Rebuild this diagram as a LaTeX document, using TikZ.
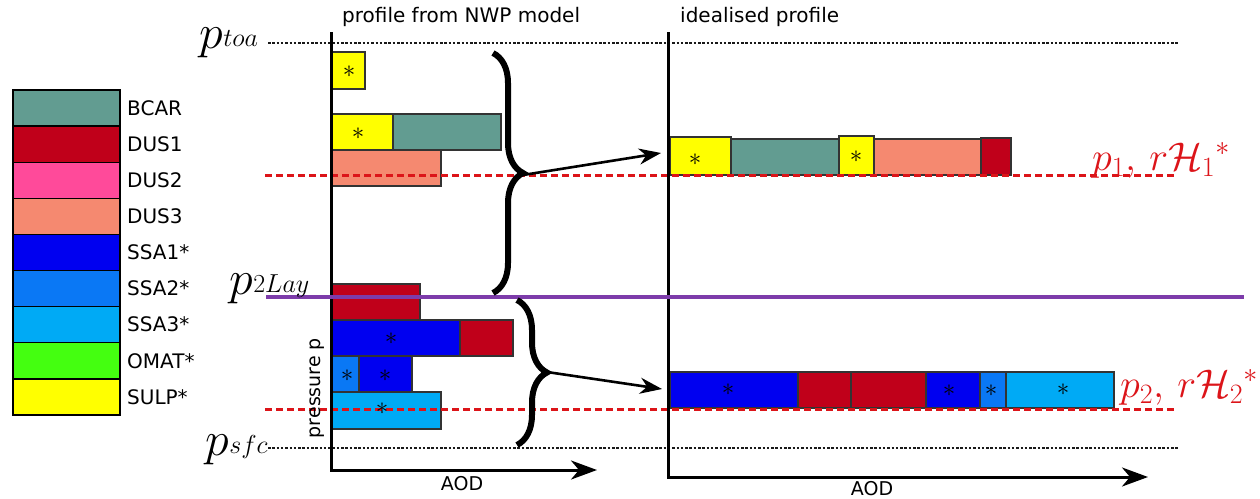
\RequirePackage{fix-cm}
\documentclass[tikz,border=0pt]{standalone}
\usepackage{fontspec}
\setmainfont{DejaVu Sans}
\usetikzlibrary{arrows.meta,decorations.pathreplacing}

% aerosol species colours
\definecolor{bcar}{RGB}{98,156,145}
\definecolor{dusone}{RGB}{192,0,26}
\definecolor{dustwo}{RGB}{255,74,154}
\definecolor{dusthree}{RGB}{245,137,112}
\definecolor{ssaone}{RGB}{0,0,240}
\definecolor{ssatwo}{RGB}{10,120,245}
\definecolor{ssathree}{RGB}{0,170,245}
\definecolor{omat}{RGB}{68,255,16}
\definecolor{sulp}{RGB}{255,255,0}
\definecolor{levred}{RGB}{220,20,25}
\definecolor{splitpurple}{RGB}{125,60,170}

% pressure level symbol: italic p followed by a small italic index
\newcommand{\plev}[1]{$p$\kern0.5pt\raisebox{2pt}{\fontsize{26}{26}\selectfont$#1$}}

\tikzset{
  legbox/.style={draw=black, line width=1.4pt},
  bar/.style={draw=black!80, line width=1.3pt},
  starmark/.style={inner sep=0pt, font=\fontsize{25}{25}\selectfont},
  axisline/.style={line width=3pt, -{Stealth[length=26pt,width=19pt,inset=8pt]}},
  bound/.style={line width=1.6pt, dash pattern=on 2.5pt off 1.8pt, black!90},
  level/.style={line width=3pt, dash pattern=on 7pt off 4pt, levred},
  splitline/.style={line width=3.5pt, splitpurple},
  bigbrace/.style={line width=6pt, decorate, decoration={brace, amplitude=30pt}},
  flow/.style={line width=2.6pt, -{Stealth[length=22pt,width=16pt,inset=7pt]}},
  plab/.style={inner sep=0pt, anchor=base west, font=\fontsize{48}{48}\selectfont},
  rlab/.style={inner sep=0pt, anchor=base west, text=levred, font=\fontsize{40}{40}\selectfont},
  txt/.style={inner sep=0pt},
  bigtxt/.style={inner sep=0pt, font=\fontsize{20}{24}\selectfont}
}

\begin{document}
\begin{tikzpicture}[x=1pt, y=-1pt, font=\fontsize{19}{22}\selectfont]
\useasboundingbox (0,0) rectangle (1260,498);

% ---- legend ----
\foreach \c/\t [count=\i from 0] in {bcar/BCAR, dusone/DUS1, dustwo/DUS2, dusthree/DUS3,
    ssaone/SSA1*, ssatwo/SSA2*, ssathree/SSA3*, omat/OMAT*, sulp/SULP*} {
  \draw[legbox, fill=\c] (13,{90+36.1*\i}) rectangle (120,{90+36.1*(\i+1)});
  \node[bigtxt, anchor=west] (leg\i) at (127,{90+36.1*(\i+0.5)}) {\t};
}

% ---- pressure boundaries ----
\draw[bound] (268,43) -- (1178,43);
\draw[bound] (268,448) -- (1178,448);

% ---- NWP model profile: upper layer ----
\draw[bar, fill=sulp] (332,52) rectangle (365,89);
\draw[bar, fill=sulp] (332,114) rectangle (393,150);
\draw[bar, fill=bcar] (393,114) rectangle (501,150);
\draw[bar, fill=dusthree] (332,150) rectangle (441,186);

% ---- NWP model profile: lower layer ----
\draw[bar, fill=dusone] (332,284) rectangle (420,320);
\draw[bar, fill=ssaone] (332,320) rectangle (460,356);
\draw[bar, fill=dusone] (460,320) rectangle (513,356);
\draw[bar, fill=ssatwo] (332,356) rectangle (359,392);
\draw[bar, fill=ssaone] (359,356) rectangle (412,392);
\draw[bar, fill=ssathree] (332,392) rectangle (441,429);

% ---- idealised profile ----
\draw[bar, fill=sulp] (670,137) rectangle (731,175);
\draw[bar, fill=bcar] (731,139) rectangle (839,175);
\draw[bar, fill=sulp] (839,136) rectangle (874,175);
\draw[bar, fill=dusthree] (874,139) rectangle (981,175);
\draw[bar, fill=dusone] (981,138) rectangle (1011,175);

\draw[bar, fill=ssaone] (670,372) rectangle (798,408);
\draw[bar, fill=dusone] (798,372) rectangle (851,408);
\draw[bar, fill=dusone] (851,372) rectangle (926,408);
\draw[bar, fill=ssaone] (926,372) rectangle (980,408);
\draw[bar, fill=ssatwo] (980,372) rectangle (1006,408);
\draw[bar, fill=ssathree] (1006,372) rectangle (1114,408);

% ---- layer mean levels ----
\draw[level] (265,175) -- (1176,175);
\draw[level] (265,409) -- (1176,409);

% ---- asterisks for hygroscopic species ----
\node[starmark] (s1) at (349,72) {$\ast$};
\node[starmark] (s2) at (358,134) {$\ast$};
\node[starmark] (s3) at (391,339) {$\ast$};
\node[starmark] (s4) at (347,376) {$\ast$};
\node[starmark] (s5) at (385,376) {$\ast$};
\node[starmark] (s6) at (382,409) {$\ast$};
\node[starmark] (s7) at (695,160) {$\ast$};
\node[starmark] (s8) at (856,157) {$\ast$};
\node[starmark] (s9) at (728,390) {$\ast$};
\node[starmark] (s10) at (949,391) {$\ast$};
\node[starmark] (s11) at (991,391) {$\ast$};
\node[starmark] (s12) at (1063,390) {$\ast$};

% ---- axes ----
\draw[axisline] (331,32) -- (331,470) -- (597,470);
\draw[axisline] (668,32) -- (668,477) -- (1148,477);

% ---- two-layer split ----
\draw[splitline] (266,297) -- (1244,297);

% ---- braces and arrows ----
\draw[bigbrace] (493,53) -- (493,293);
\draw[bigbrace] (517,300) -- (517,445);
\coordinate (topTip) at (523,175);
\coordinate (topEnd) at (661,153);
\coordinate (lowTip) at (547,372);
\coordinate (lowEnd) at (662,389);
\draw[flow] (topTip) -- (topEnd);
\draw[flow] (lowTip) -- (lowEnd);

% ---- text ----
\node[bigtxt, anchor=base west] (t1) at (342,22) {profile from NWP model};
\node[bigtxt, anchor=base west] (t2) at (680,22) {idealised profile};
\node[txt] (x1) at (462,484) {AOD};
\node[txt] (x2) at (872,489) {AOD};
\node[txt, rotate=90] (yl) at (317,388) {pressure p};

\node[plab] (ptoa) at (199,48) {\plev{toa}};
\node[plab] (play) at (229,294) {\plev{2Lay}};
\node[plab] (psfc) at (205,455) {\plev{sfc}};

\node[rlab] (pone) at (1092,170) {$p_1,\,r\mathcal{H}_1{}^{\ast}$};
\node[rlab] (ptwo) at (1120,397) {$p_2,\,r\mathcal{H}_2{}^{\ast}$};
\end{tikzpicture}
\end{document}
